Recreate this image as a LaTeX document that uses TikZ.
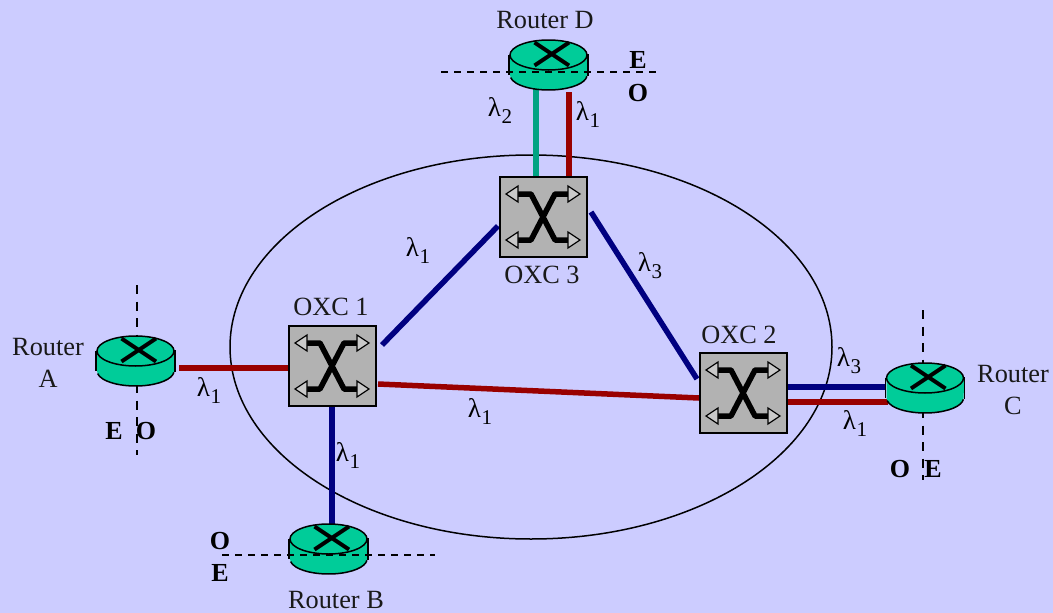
\documentclass[tikz,border=0pt]{standalone}
\usepackage{fontspec}
\setmainfont{Liberation Serif}
\definecolor{bgc}{HTML}{CCCCFF}
\definecolor{rt}{HTML}{00CC99}
\definecolor{redl}{HTML}{990000}
\definecolor{navyl}{HTML}{000080}
\definecolor{teall}{HTML}{00A383}
\definecolor{grayb}{HTML}{B2B2B2}
\newcommand{\lam}[1]{λ\kern0.5pt\raisebox{-7pt}{\fontsize{21}{21}\selectfont #1}}
\tikzset{
 txt/.style={font=\fontsize{26.3}{32}\selectfont,inner sep=0pt,align=center,text=black!90},
 lbl/.style={font=\fontsize{26}{27}\selectfont\bfseries,inner sep=0pt},
 lam/.style={font=\fontsize{27}{27}\selectfont,inner sep=0pt},
 link/.style={line width=5.5pt},
 dashline/.style={line width=1.3pt,dash pattern=on 7pt off 6pt},
 dashv/.style={line width=1.5pt,dash pattern=on 9pt off 7.5pt},
 oxcbox/.style={draw=black,line width=2pt,fill=grayb,minimum width=87pt,minimum height=80pt,inner sep=0pt},
 pics/router/.style={code={
  \fill[rt] (-38.5,0) -- (-38.5,20) arc[x radius=38.5,y radius=15,start angle=180,end angle=0] -- (39.5,0) -- cycle;
  \draw[line width=1.5pt] (-37.9,22.6) arc[x radius=38.5,y radius=15,start angle=170,end angle=5];
  \draw[line width=1.5pt] (-39.5,0) -- (-39.5,20);
  \draw[line width=1.5pt] (39.5,-1) -- (39.5,21);
  \draw[line width=1.5pt,fill=rt] (0,0) ellipse[x radius=38.5,y radius=15];
  \draw[line width=4pt] (-14,-12.5) -- (20.5,10.5) (-14,10.5) -- (20.5,-12.5);
 }},
 pics/oxcsw/.style={code={
  \draw[line width=5.5pt,line join=round] (-26,-23) -- (-12,-23) -- (12,23) -- (26,23);
  \draw[line width=5.5pt,line join=round] (-26,23) -- (-12,23) -- (12,-23) -- (26,-23);
  \foreach \yy in {-23,23}{
   \draw[line width=1.2pt,fill=grayb!70!white] (-25,\yy-8) -- (-37,\yy) -- (-25,\yy+8) -- cycle;
   \draw[line width=1.2pt,fill=grayb!70!white] (25,\yy-8) -- (37,\yy) -- (25,\yy+8) -- cycle;
  }
 }}
}
\begin{document}
\begin{tikzpicture}[x=1pt,y=-1pt]
\useasboundingbox (0,0) rectangle (1053,613);
\fill[bgc] (0,0) rectangle (1053,613);
\draw[line width=1.5pt] (531,347) ellipse[x radius=301,y radius=192];
% router and OXC centres
\coordinate (ra) at (135.5,351);
\coordinate (rb) at (328.5,539);
\coordinate (rc) at (925,378);
\coordinate (rd) at (548.5,55);
\node[oxcbox] (ox1) at (332,366) {};
\node[oxcbox] (ox2) at (743,393) {};
\node[oxcbox] (ox3) at (543,217) {};
\coordinate (ae) at (179,368);
\coordinate (a1) at (289,368);
\coordinate (p1) at (378,384);
\coordinate (p2) at (699,398);
\coordinate (q1) at (382,345);
\coordinate (q3) at (498,226);
\coordinate (s3) at (591,212);
\coordinate (s2) at (697,379);
\coordinate (dt) at (536,88);
\coordinate (dt3) at (536,176);
\coordinate (dr) at (569,92);
\coordinate (dr3) at (569,176);
\coordinate (cn2) at (788,387);
\coordinate (cn) at (886,387);
\coordinate (cr2) at (788,402);
\coordinate (cr) at (888,402);
\coordinate (b1) at (332,407);
\coordinate (bb) at (332,524);
% links
\draw[link,redl] (ae) -- (a1);
\draw[link,redl] (p1) -- (p2);
\draw[link,navyl] (b1) -- (bb);
\draw[link,navyl] (q1) -- (q3);
\draw[link,navyl] (s3) -- (s2);
\draw[link,teall] (dt) -- (dt3);
\draw[link,redl] (dr) -- (dr3);
\draw[link,navyl] (cn2) -- (cn);
\draw[link,redl] (cr2) -- (cr);
% OXCs
\node[oxcbox] at (ox1) {};
\node[oxcbox] at (ox2) {};
\node[oxcbox] at (ox3) {};
\pic at (ox1) {oxcsw};
\pic at (ox2) {oxcsw};
\pic at (ox3) {oxcsw};
% routers
\coordinate (avt) at (137,285); \coordinate (avb) at (137,455);
\coordinate (bhl) at (222,555); \coordinate (bhr) at (435,555);
\coordinate (cvt) at (923,310); \coordinate (cvb) at (923,480);
\coordinate (dhl) at (441,72); \coordinate (dhr) at (660,72);
\draw[dashv] (avt) -- (avb);
\draw[dashv] (cvt) -- (cvb);
\pic at (ra) {router};
\pic at (rb) {router};
\pic at (rc) {router};
\pic at (rd) {router};
\draw[dashline] (bhl) -- (bhr);
\draw[dashline] (dhl) -- (dhr);
% text
\node[txt] (t1) at (545,20) {Router D};
\node[txt] (t2) at (48,363) {Router\\A};
\node[txt] (t3) at (336,600) {Router B};
\node[txt] (t4) at (1013,390) {Router\\C};
\node[txt] (t5) at (331,307) {OXC 1};
\node[txt] (t6) at (739,335) {OXC 2};
\node[txt] (t7) at (542,275) {OXC 3};
\node[lbl] (e1) at (638,60) {E};
\node[lbl] (o1) at (638,93) {O};
\node[lbl] (e2) at (114,431) {E};
\node[lbl] (o2) at (146,431) {O};
\node[lbl] (o3) at (220,541) {O};
\node[lbl] (e3) at (220,573) {E};
\node[lbl] (o4) at (900,469) {O};
\node[lbl] (e4) at (933,469) {E};
\node[lam] (l1) at (500,110) {\lam{2}};
\node[lam] (l2) at (588,114) {\lam{1}};
\node[lam] (l3) at (418,250) {\lam{1}};
\node[lam] (l4) at (650,266) {\lam{3}};
\node[lam] (l5) at (209,390) {\lam{1}};
\node[lam] (l6) at (480,411) {\lam{1}};
\node[lam] (l7) at (348,455) {\lam{1}};
\node[lam] (l8) at (849,361) {\lam{3}};
\node[lam] (l9) at (855,423) {\lam{1}};
\end{tikzpicture}
\end{document}
